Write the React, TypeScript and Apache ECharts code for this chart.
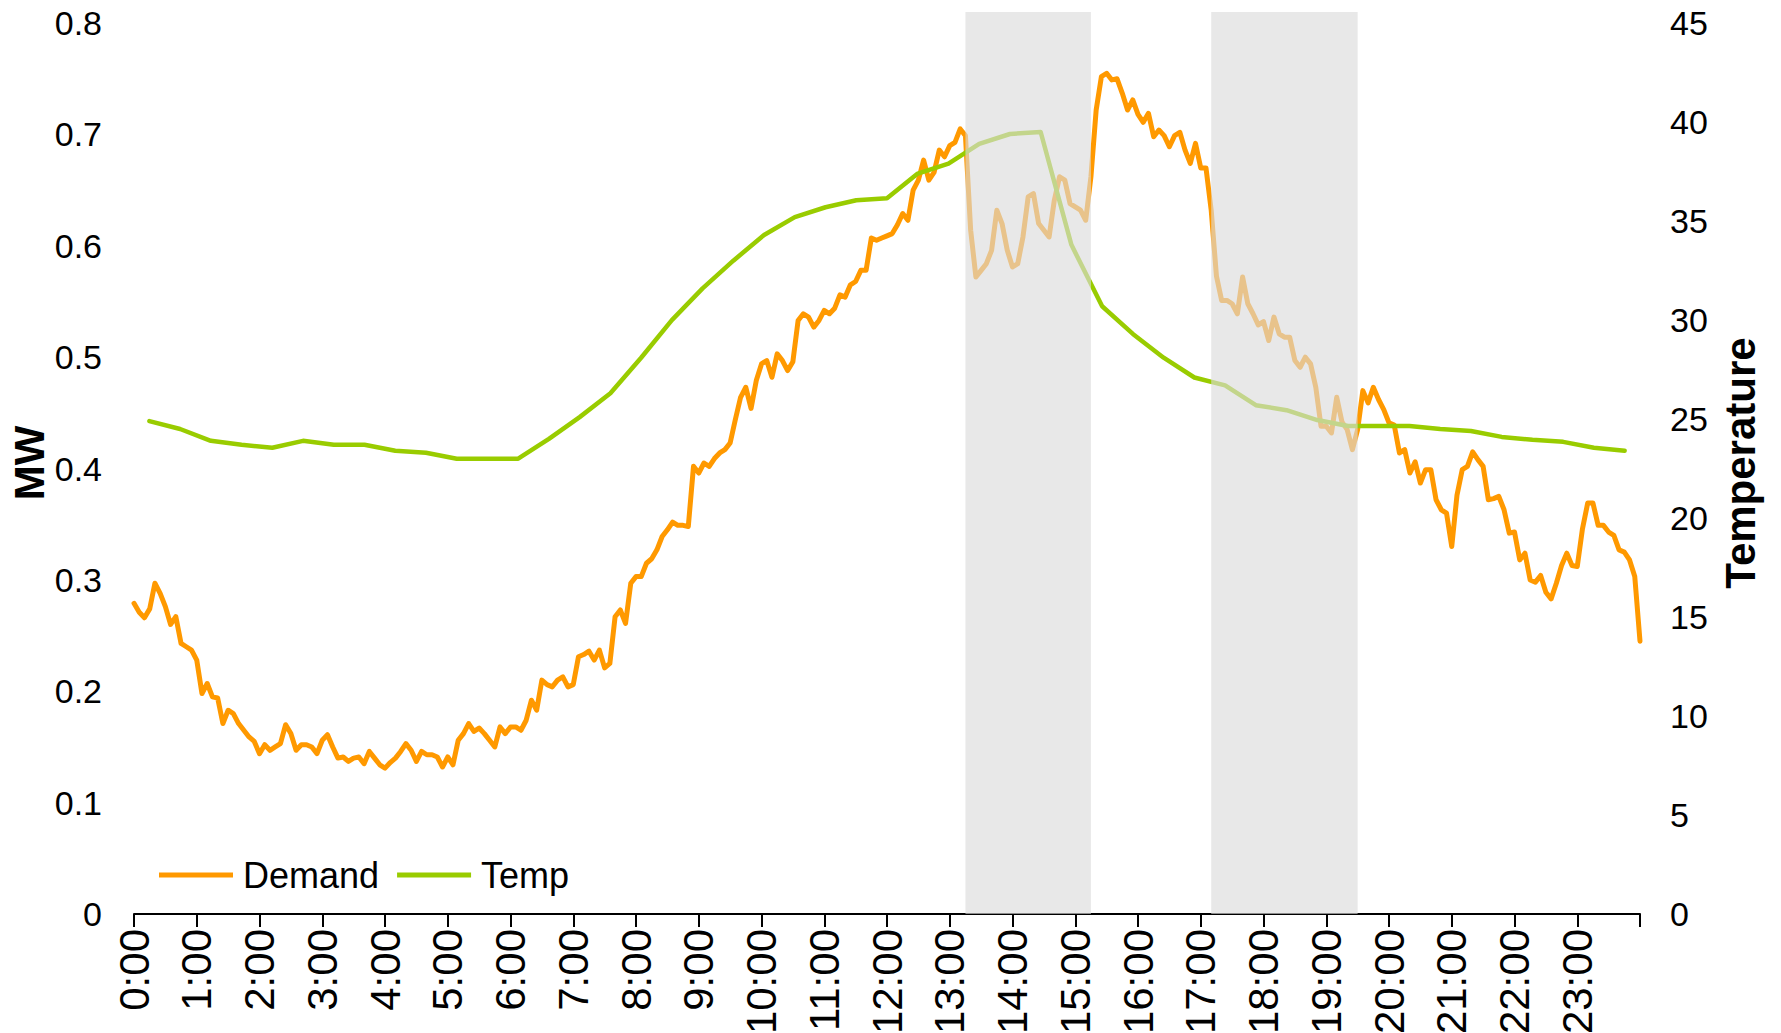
import React, { useEffect, useRef } from 'react';
import * as echarts from 'echarts';

// x axis: hour tick labels
const hourLabels = [
  '0:00', '1:00', '2:00', '3:00', '4:00', '5:00', '6:00', '7:00', '8:00', '9:00', '10:00', '11:00',
  '12:00', '13:00', '14:00', '15:00', '16:00', '17:00', '18:00', '19:00', '20:00', '21:00', '22:00', '23:00',
];

// Demand (MW), one reading every 5 minutes from 0:00 to 24:00
const demandStepMinutes = 5;
const demand = [
  0.279, 0.271, 0.266, 0.274, 0.297, 0.288, 0.276, 0.260, 0.267, 0.243, 0.240, 0.237,
  0.228, 0.198, 0.207, 0.195, 0.194, 0.171, 0.183, 0.180, 0.171, 0.165, 0.159, 0.155,
  0.144, 0.152, 0.147, 0.150, 0.153, 0.170, 0.162, 0.147, 0.152, 0.152, 0.150, 0.144,
  0.156, 0.161, 0.150, 0.140, 0.141, 0.137, 0.140, 0.141, 0.135, 0.146, 0.140, 0.134,
  0.131, 0.136, 0.140, 0.146, 0.153, 0.147, 0.137, 0.146, 0.143, 0.143, 0.141, 0.132,
  0.141, 0.134, 0.156, 0.162, 0.171, 0.164, 0.167, 0.162, 0.156, 0.150, 0.168, 0.162,
  0.168, 0.168, 0.165, 0.174, 0.192, 0.183, 0.210, 0.206, 0.204, 0.210, 0.213, 0.204,
  0.206, 0.231, 0.233, 0.236, 0.228, 0.237, 0.221, 0.225, 0.267, 0.273, 0.261, 0.297,
  0.303, 0.303, 0.315, 0.319, 0.327, 0.339, 0.345, 0.352, 0.349, 0.349, 0.348, 0.402,
  0.396, 0.405, 0.402, 0.409, 0.414, 0.417, 0.423, 0.444, 0.464, 0.473, 0.454, 0.479,
  0.494, 0.497, 0.482, 0.503, 0.497, 0.488, 0.496, 0.533, 0.539, 0.536, 0.527, 0.533,
  0.542, 0.539, 0.544, 0.556, 0.554, 0.565, 0.568, 0.578, 0.578, 0.607, 0.605, 0.607,
  0.609, 0.611, 0.619, 0.629, 0.623, 0.650, 0.659, 0.677, 0.659, 0.666, 0.686, 0.680,
  0.690, 0.693, 0.705, 0.699, 0.614, 0.572, 0.578, 0.584, 0.596, 0.632, 0.620, 0.596,
  0.581, 0.584, 0.608, 0.644, 0.647, 0.620, 0.614, 0.608, 0.641, 0.662, 0.659, 0.638,
  0.635, 0.632, 0.623, 0.662, 0.722, 0.752, 0.755, 0.749, 0.750, 0.737, 0.722, 0.731,
  0.718, 0.711, 0.719, 0.698, 0.704, 0.699, 0.689, 0.699, 0.702, 0.686, 0.674, 0.692,
  0.670, 0.670, 0.632, 0.573, 0.551, 0.551, 0.548, 0.539, 0.572, 0.548, 0.539, 0.529,
  0.532, 0.515, 0.536, 0.521, 0.518, 0.518, 0.497, 0.491, 0.500, 0.494, 0.473, 0.438,
  0.438, 0.432, 0.464, 0.442, 0.435, 0.417, 0.435, 0.470, 0.459, 0.473, 0.462, 0.453,
  0.441, 0.439, 0.414, 0.417, 0.396, 0.406, 0.387, 0.399, 0.399, 0.372, 0.363, 0.360,
  0.330, 0.376, 0.399, 0.402, 0.415, 0.408, 0.402, 0.372, 0.373, 0.375, 0.363, 0.342,
  0.343, 0.318, 0.324, 0.300, 0.298, 0.304, 0.289, 0.283, 0.297, 0.313, 0.324, 0.313,
  0.312, 0.346, 0.369, 0.369, 0.349, 0.349, 0.343, 0.340, 0.327, 0.325, 0.318, 0.303,
  0.245,
];

// Temperature, half-hourly readings (49 categories spread over the day)
const tempCategories = [
  '0:00', '0:30', '1:00', '1:30', '2:00', '2:30', '3:00', '3:30', '4:00', '4:30', '5:00', '5:30',
  '6:00', '6:30', '7:00', '7:30', '8:00', '8:30', '9:00', '9:30', '10:00', '10:30', '11:00', '11:30',
  '12:00', '12:30', '13:00', '13:30', '14:00', '14:30', '15:00', '15:30', '16:00', '16:30', '17:00', '17:30',
  '18:00', '18:30', '19:00', '19:30', '20:00', '20:30', '21:00', '21:30', '22:00', '22:30', '23:00', '23:30',
  '24:00',
];
const temp = [
  24.9, 24.5, 23.9, 23.7, 23.55, 23.9, 23.7, 23.7, 23.4, 23.3, 23.0, 23.0,
  23.0, 24.0, 25.1, 26.3, 28.1, 30.0, 31.6, 33.0, 34.3, 35.2, 35.7, 36.05,
  36.15, 37.4, 37.9, 38.9, 39.4, 39.5, 33.8, 30.7, 29.3, 28.1, 27.1, 26.7,
  25.7, 25.45, 24.95, 24.65, 24.65, 24.65, 24.5, 24.4, 24.1, 23.95, 23.85, 23.55,
  23.4,
];

// shaded periods, in minutes after midnight
const shadeRanges = [
  [795, 915],
  [1030, 1170],
];

const MW_MAX = 0.81;
const TEMP_MAX = 45 * MW_MAX / 0.8;
const FONT = "'Liberation Sans', Arial, sans-serif";

export default function App() {
  const ref = useRef<HTMLDivElement>(null);

  useEffect(() => {
    if (!ref.current) return;
    const chart = echarts.init(ref.current, undefined, { renderer: 'svg' });

    const demandData = demand.map((v, i) => [i * demandStepMinutes, v]);

    chart.setOption({
      animation: false,
      backgroundColor: '#ffffff',
      textStyle: { fontFamily: FONT },
      grid: {
        left: 134,
        right: 141,
        top: 12,
        bottom: 119,
        containLabel: false,
        outerBoundsMode: 'none',
      },
      legend: {
        data: ['Demand', 'Temp'],
        left: 154,
        top: 852,
        icon: 'rect',
        itemWidth: 74,
        itemHeight: 5,
        itemGap: 18,
        textStyle: { fontSize: 36, color: '#000', fontFamily: FONT, padding: [0, 0, 0, 5] },
      },
      xAxis: [
        {
          type: 'value',
          min: 0,
          max: 1440,
          interval: 60,
          axisLine: { show: true, lineStyle: { color: '#000', width: 2 } },
          axisTick: { show: true, length: 13, lineStyle: { color: '#000', width: 2 } },
          splitLine: { show: false },
          axisLabel: {
            rotate: 90,
            margin: 15,
            fontSize: 42,
            color: '#000',
            fontFamily: FONT,
            showMaxLabel: true,
            formatter: (v: number) => (v < 1440 && v % 60 === 0 ? hourLabels[v / 60] : ''),
          },
        },
        {
          type: 'category',
          data: tempCategories,
          boundaryGap: true,
          show: false,
          position: 'top',
        },
      ],
      yAxis: [
        {
          type: 'value',
          min: 0,
          max: MW_MAX,
          interval: 0.1,
          name: 'MW',
          nameLocation: 'middle',
          nameRotate: 90,
          nameGap: 84,
          nameMoveOverlap: false,
          nameTextStyle: { fontSize: 42, fontWeight: 'bold', color: '#000', fontFamily: FONT },
          axisLine: { show: false },
          axisTick: { show: false },
          splitLine: { show: false },
          axisLabel: {
            margin: 32,
            fontSize: 34,
            color: '#000',
            fontFamily: FONT,
            formatter: (v: number) => {
              const k = Math.round(v * 10);
              if (Math.abs(v * 10 - k) > 1e-6) return '';
              return k === 0 ? '0' : (k / 10).toFixed(1);
            },
          },
        },
        {
          type: 'value',
          min: 0,
          max: TEMP_MAX,
          interval: 5,
          position: 'right',
          name: 'Temperature',
          nameLocation: 'middle',
          nameRotate: 90,
          nameGap: 79,
          nameMoveOverlap: false,
          nameTextStyle: { fontSize: 42, fontWeight: 'bold', color: '#000', fontFamily: FONT },
          axisLine: { show: false },
          axisTick: { show: false },
          splitLine: { show: false },
          axisLabel: {
            margin: 30,
            fontSize: 34,
            color: '#000',
            fontFamily: FONT,
            formatter: (v: number) => {
              const k = Math.round(v / 5);
              if (Math.abs(v / 5 - k) > 1e-6) return '';
              return String(k * 5);
            },
          },
        },
      ],
      series: [
        {
          name: 'Demand',
          type: 'line',
          xAxisIndex: 0,
          yAxisIndex: 0,
          data: demandData,
          showSymbol: false,
          symbol: 'none',
          z: 2,
          color: '#FF9900',
          lineStyle: { color: '#FF9900', width: 5, join: 'round', cap: 'round' },
          markArea: {
            z: 10,
            silent: true,
            label: { show: false },
            itemStyle: { color: 'rgba(219,219,219,0.635)', borderWidth: 0 },
            data: shadeRanges.map(([a, b]) => [
              { xAxis: a, yAxis: 0 },
              { xAxis: b, yAxis: MW_MAX },
            ]),
          },
        },
        {
          name: 'Temp',
          type: 'line',
          xAxisIndex: 1,
          yAxisIndex: 1,
          data: temp,
          showSymbol: false,
          symbol: 'none',
          z: 3,
          color: '#99CC00',
          lineStyle: { color: '#99CC00', width: 4.5, join: 'round', cap: 'round' },
        },
      ],
    });

    return () => chart.dispose();
  }, []);

  return (
    <div
      ref={ref}
      style={{ position: 'fixed', left: 0, top: 0, width: 1781, height: 1033, background: '#fff' }}
    />
  );
}
